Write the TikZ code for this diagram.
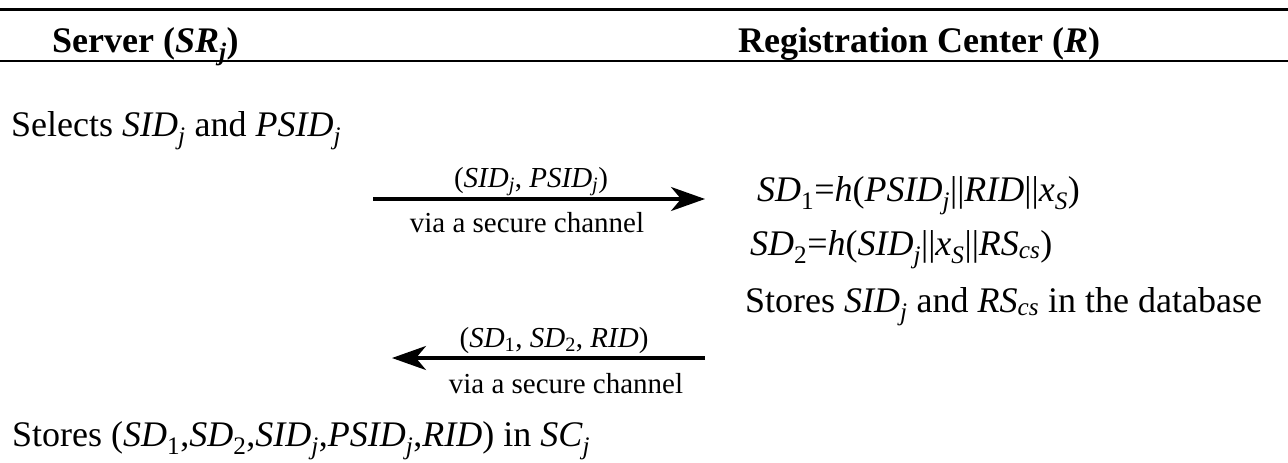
\documentclass[tikz,border=0pt]{standalone}
\usepackage{fontspec}
\setmainfont{Liberation Serif}
\usetikzlibrary{arrows.meta}
\newcommand{\sbi}[1]{\textsubscript{\textit{#1}}}
\newcommand{\sbu}[1]{\textsubscript{#1}}
\begin{document}
\begin{tikzpicture}[x=1pt,y=-1pt,
  hdr/.style={inner sep=0pt,anchor=base west,font=\fontsize{36}{40}\selectfont\bfseries},
  body/.style={inner sep=0pt,anchor=base west,font=\fontsize{36}{40}\selectfont},
  lbl/.style={inner sep=0pt,anchor=base,font=\fontsize{29}{34}\selectfont},
  rule/.style={line width=2.4pt},
  msg/.style={line width=3.3pt,-{Stealth[length=34pt,width=24pt,inset=10pt]}}]
\useasboundingbox (0,0) rectangle (1288,463);
\coordinate (r1l) at (0,9.5);
\coordinate (r1r) at (1288,9.5);
\coordinate (r2l) at (0,61);
\coordinate (r2r) at (1288,61);
\draw[rule] (r1l) -- (r1r);
\draw[rule] (r2l) -- (r2r);
\node[hdr] (hs) at (52,52) {Server (\textit{SR}\sbi{j})};
\node[hdr] (hr) at (738,52) {Registration Center (\textit{R})};
\node[body] (sel) at (11,136) {Selects \textit{SID}\sbi{j} and \textit{PSID}\sbi{j}};
\coordinate (a1s) at (373,199);
\coordinate (a1e) at (705,199);
\draw[msg] (a1s) -- (a1e);
\node[lbl] (m1) at (531,187) {(\textit{SID}\sbi{j}, \textit{PSID}\sbi{j})};
\node[lbl] (c1) at (527,232) {via a secure channel};
\node[body] (sd1) at (757,201) {\textit{SD}\sbu{1}=\textit{h}(\textit{PSID}\sbi{j}||\textit{RID}||\textit{x}\sbi{S})};
\node[body] (sd2) at (750,255) {\textit{SD}\sbu{2}=\textit{h}(\textit{SID}\sbi{j}||\textit{x}\sbi{S}||\textit{RS}\sbi{cs})};
\node[body] (st1) at (745,312) {Stores \textit{SID}\sbi{j} and \textit{RS}\sbi{cs} in the database};
\coordinate (a2s) at (705,358);
\coordinate (a2e) at (392,358);
\draw[msg] (a2s) -- (a2e);
\node[lbl] (m2) at (554,347) {(\textit{SD}\sbu{1}, \textit{SD}\sbu{2}, \textit{RID})};
\node[lbl] (c2) at (566,393) {via a secure channel};
\node[body] (st2) at (12,446) {Stores (\textit{SD}\sbu{1},\textit{SD}\sbu{2},\textit{SID}\sbi{j},\textit{PSID}\sbi{j},\textit{RID}) in \textit{SC}\sbi{j}};
\end{tikzpicture}
\end{document}
